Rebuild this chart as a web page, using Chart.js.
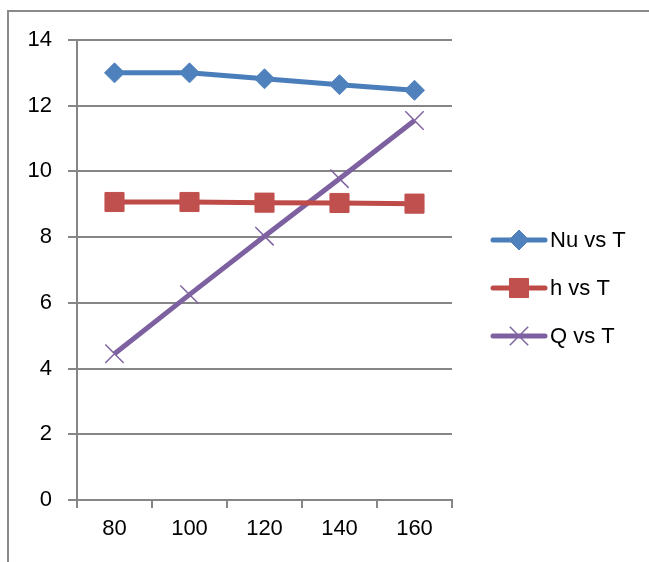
<!DOCTYPE html>
<html>
<head>
<meta charset="utf-8">
<script src="https://cdn.jsdelivr.net/npm/chart.js@4"></script>
<style>
  html, body { margin: 0; padding: 0; background: #fff; }
  #wrap { position: absolute; left: 0; top: 0; width: 649px; height: 562px; }
</style>
</head>
<body>
<div id="wrap"><canvas id="c"></canvas></div>
<script>
// temperatures on the category axis
let temps = ['80', '100', '120', '140', '160'];
let yTicks = [0, 2, 4, 6, 8, 10, 12, 14];

// series
let nuValues = [13.0, 13.0, 12.82, 12.64, 12.47];
let hValues = [9.07, 9.07, 9.05, 9.04, 9.02];
let qValues = [4.45, 6.25, 8.03, 9.78, 11.55];

let seriesNames = ['Nu vs T', 'h vs T', 'Q vs T'];

const grey = '#868686';
const font = "'Liberation Sans', Arial, sans-serif";

// outer frame like the pasted picture
let framePlugin = {
    id: 'frame',
    beforeDraw(chart) {
        let ctx = chart.ctx;
        ctx.save();
        ctx.strokeStyle = '#8a8a8a';
        ctx.lineWidth = 2;
        ctx.beginPath();
        ctx.moveTo(8, 562);
        ctx.lineTo(8, 11);
        ctx.lineTo(649, 11);
        ctx.stroke();
        ctx.restore();
    }
};

// legend on the right with line + marker
let legendPlugin = {
    id: 'sideLegend',
    afterDraw(chart) {
        let ctx = chart.ctx;
        ctx.save();
        chart.data.datasets.forEach((ds, i) => {
            let y = 240 + i * 48;
            ctx.strokeStyle = ds.borderColor;
            ctx.lineWidth = 5;
            ctx.lineCap = 'round';
            ctx.beginPath();
            ctx.moveTo(493, y);
            ctx.lineTo(545, y);
            ctx.stroke();
            ctx.lineCap = 'butt';
            ctx.fillStyle = ds.pointBackgroundColor;
            ctx.strokeStyle = ds.pointBorderColor;
            ctx.lineWidth = ds.pointBorderWidth;
            Chart.helpers.drawPoint(ctx, {
                pointStyle: ds.pointStyle,
                radius: ds.pointRadius,
                borderWidth: ds.pointBorderWidth
            }, 519, y);
            ctx.fillStyle = '#000';
            ctx.font = '22px ' + font;
            ctx.textBaseline = 'middle';
            ctx.fillText(ds.label, 550, y + 1);
        });
        ctx.restore();
    }
};

function makeSet(label, data, line, mark, style, radius, bw) {
    return {
        label: label,
        data: data,
        borderColor: line,
        backgroundColor: mark,
        pointBackgroundColor: mark,
        pointBorderColor: mark,
        pointStyle: style,
        pointRadius: radius,
        pointHoverRadius: radius,
        pointBorderWidth: bw,
        borderWidth: 5,
        tension: 0
    };
}

let datasets = [
    makeSet(seriesNames[0], nuValues, '#4A7EBB', '#4F81BD', 'rectRot', 10, 1),
    makeSet(seriesNames[1], hValues, '#BE4B48', '#C0504D', 'rect', 13.5, 1),
    makeSet(seriesNames[2], qValues, '#7D60A0', '#8064A2', 'crossRot', 13, 1.5)
];

new Chart(document.getElementById('c'), {
    type: 'line',
    data: { labels: temps, datasets: datasets },
    options: {
        responsive: true,
        maintainAspectRatio: false,
        animation: false,
        layout: { padding: { left: 0, top: 40, right: 197, bottom: 0 } },
        plugins: {
            legend: { display: false },
            tooltip: { enabled: false }
        },
        scales: {
            x: {
                offset: true,
                afterFit(scale) { scale.height = 62; },
                grid: {
                    offset: true,
                    drawOnChartArea: false,
                    color: grey,
                    lineWidth: 2,
                    tickLength: 8
                },
                border: { color: grey, width: 2 },
                ticks: {
                    color: '#000',
                    font: { family: font, size: 22 },
                    padding: 8,
                    maxRotation: 0
                }
            },
            y: {
                min: 0,
                max: 14,
                afterFit(scale) { scale.width = 77; },
                afterBuildTicks(scale) {
                    scale.ticks = yTicks.map(v => ({ value: v }));
                },
                grid: {
                    color: grey,
                    lineWidth: 2,
                    tickLength: 9
                },
                border: { color: grey, width: 2 },
                ticks: {
                    color: '#000',
                    font: { family: font, size: 22 },
                    padding: 16
                }
            }
        }
    },
    plugins: [framePlugin, legendPlugin]
});
</script>
</body>
</html>
